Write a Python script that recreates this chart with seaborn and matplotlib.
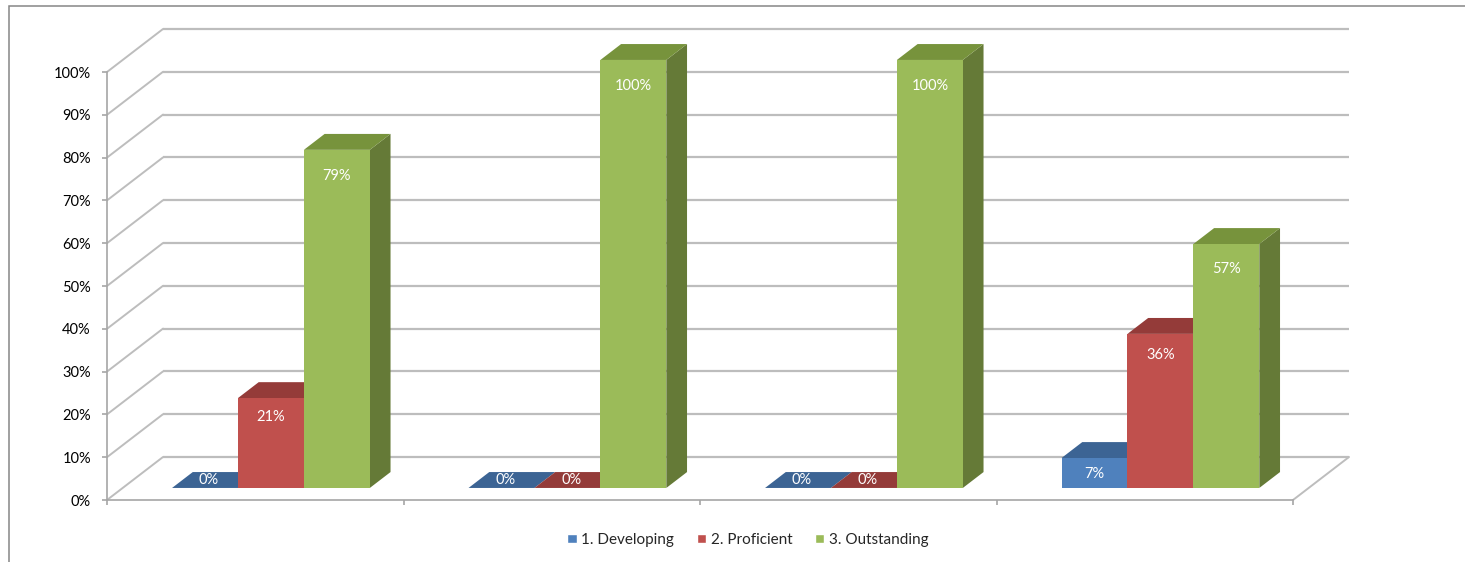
import numpy as np
import pandas as pd
import matplotlib
matplotlib.use("Agg")
import matplotlib.pyplot as plt
from matplotlib.patches import Polygon, Rectangle
from matplotlib.transforms import ScaledTranslation
import seaborn as sns

# ---- data -------------------------------------------------------------
categories = ["Item 1", "Item 2", "Item 3", "Item 4"]
levels = ["1. Developing", "2. Proficient", "3. Outstanding"]
developing = [0, 0, 0, 7]
proficient = [21, 0, 0, 36]
outstanding = [79, 100, 100, 57]
y_ticks = list(range(0, 101, 10))

# ---- style ------------------------------------------------------------
front_colors = ["#4F81BD", "#C0504D", "#9BBB59"]
top_colors = ["#3C6494", "#943B39", "#77933C"]
side_colors = ["#385D8A", "#8A3835", "#657A37"]
grid_color = "#BDBDBD"
axis_color = "#A6A6A6"

sns.set_theme(style="white")
plt.rcParams["font.family"] = ["Lato", "DejaVu Sans"]

series = {levels[0]: developing, levels[1]: proficient, levels[2]: outstanding}
df = pd.DataFrame(
    [(c, lvl, v) for lvl, vals in series.items() for c, v in zip(categories, vals)],
    columns=["category", "level", "value"],
)

W, H, DPI = 1465, 562, 100
fig = plt.figure(figsize=(W / DPI, H / DPI), dpi=DPI)
# axes = front plane of the 3-D box
ax = fig.add_axes([107 / W, 62 / H, 1186 / W, 428 / H])

sns.barplot(
    data=df, x="category", y="value", hue="level",
    order=categories, hue_order=levels,
    palette=dict(zip(levels, front_colors)), saturation=1,
    width=0.667, gap=0, errorbar=None, ax=ax, legend=True,
)
ax.set_xlim(-0.5, len(categories) - 0.5)
ax.set_ylim(0, 100)

# depth of the box (pixels) expressed in data units
DX, DY = 56, 43
bb = ax.get_position()
px_x = bb.width * W / (len(categories))
px_y = bb.height * H / 100.0
ddx, ddy = DX / px_x, DY / px_y
T0, TB = 0.28, 0.37  # gap in front of the bars, bar depth (fractions of box depth)
fx, fy = T0 * ddx, T0 * ddy
bx, by = TB * ddx, TB * ddy
x_lo, x_hi = -0.5, len(categories) - 0.5

# back wall gridlines, left wall diagonals, floor edge
for v in y_ticks:
    ax.plot([x_lo + ddx, x_hi + ddx], [v + ddy, v + ddy], color=grid_color,
            lw=1.6, zorder=1, clip_on=False, solid_capstyle="butt")
    ax.plot([x_lo, x_lo + ddx], [v, v + ddy], color=grid_color,
            lw=1.4, zorder=1, clip_on=False)
ax.plot([x_hi, x_hi + ddx], [0, ddy], color=grid_color, lw=1.4, zorder=1, clip_on=False)

# 3-D faces for every bar drawn by seaborn
bars = []
for hi, cont in enumerate(ax.containers):
    for bar in cont:
        bars.append((bar.get_x(), hi, bar))
bars.sort(key=lambda b: b[0])

shift = ax.transData + ScaledTranslation(T0 * DX / DPI, T0 * DY / DPI, fig.dpi_scale_trans)
for rank, (x0, hi, bar) in enumerate(bars):
    w = bar.get_width()
    h = bar.get_height()
    z = 3 + rank * 0.01
    bar.set_transform(shift)
    bar.set_clip_on(False)
    bar.set_zorder(z + 0.005)
    bar.set_edgecolor("none")
    top = Polygon([(x0 + fx, h + fy), (x0 + w + fx, h + fy),
                   (x0 + w + fx + bx, h + fy + by), (x0 + fx + bx, h + fy + by)],
                  closed=True, facecolor=top_colors[hi], edgecolor="none",
                  zorder=z, clip_on=False)
    side = Polygon([(x0 + w + fx, fy), (x0 + w + fx, h + fy),
                    (x0 + w + fx + bx, h + fy + by), (x0 + w + fx + bx, fy + by)],
                   closed=True, facecolor=side_colors[hi], edgecolor="none",
                   zorder=z, clip_on=False)
    ax.add_patch(side)
    ax.add_patch(top)

    label = f"{h:.0f}%"
    if h > 0:
        off = min(15 + 0.17 * h, 26)
        ax.annotate(label, (x0 + fx + w / 2, h + fy), xytext=(0, -off),
                    textcoords="offset pixels", ha="center", va="center",
                    color="white", fontsize=10.5, zorder=10,
                    annotation_clip=False)
    else:
        ax.annotate(label, (x0 + fx + w / 2, fy + by / 2), xytext=(4, 0),
                    textcoords="offset pixels", ha="center", va="center",
                    color="white", fontsize=10.5, zorder=10,
                    annotation_clip=False)

# axes, ticks
for s in ["top", "right"]:
    ax.spines[s].set_visible(False)
for s in ["left", "bottom"]:
    ax.spines[s].set_color(axis_color)
    ax.spines[s].set_linewidth(1.2)
ax.set_yticks(y_ticks)
ax.set_yticklabels([f"{v}%" for v in y_ticks])
ax.set_xticks(np.arange(x_lo, x_hi + 0.01, 1.0))
ax.set_xticklabels([])
ax.tick_params(left=True, bottom=True, direction="out", length=3.6, width=1.2,
               color=axis_color)
ax.tick_params(axis="y", pad=8, labelsize=10.5, labelcolor="#000000")
ax.set_xlabel("")
ax.set_ylabel("")
ax.patch.set_alpha(0)

sns.move_legend(ax, "center", bbox_to_anchor=(748 / W, 22 / H),
                bbox_transform=fig.transFigure, ncol=3, frameon=False, title=None,
                handlelength=0.6, handleheight=0.6, handletextpad=0.3,
                columnspacing=1.5, fontsize=11)

# chart area border
fig.add_artist(Rectangle((8.5 / W, -0.05), 1.2, 1 - 5.5 / H + 0.05,
                         transform=fig.transFigure, fill=False,
                         edgecolor="#868686", lw=1.1))

fig.savefig("out.png", dpi=DPI)
